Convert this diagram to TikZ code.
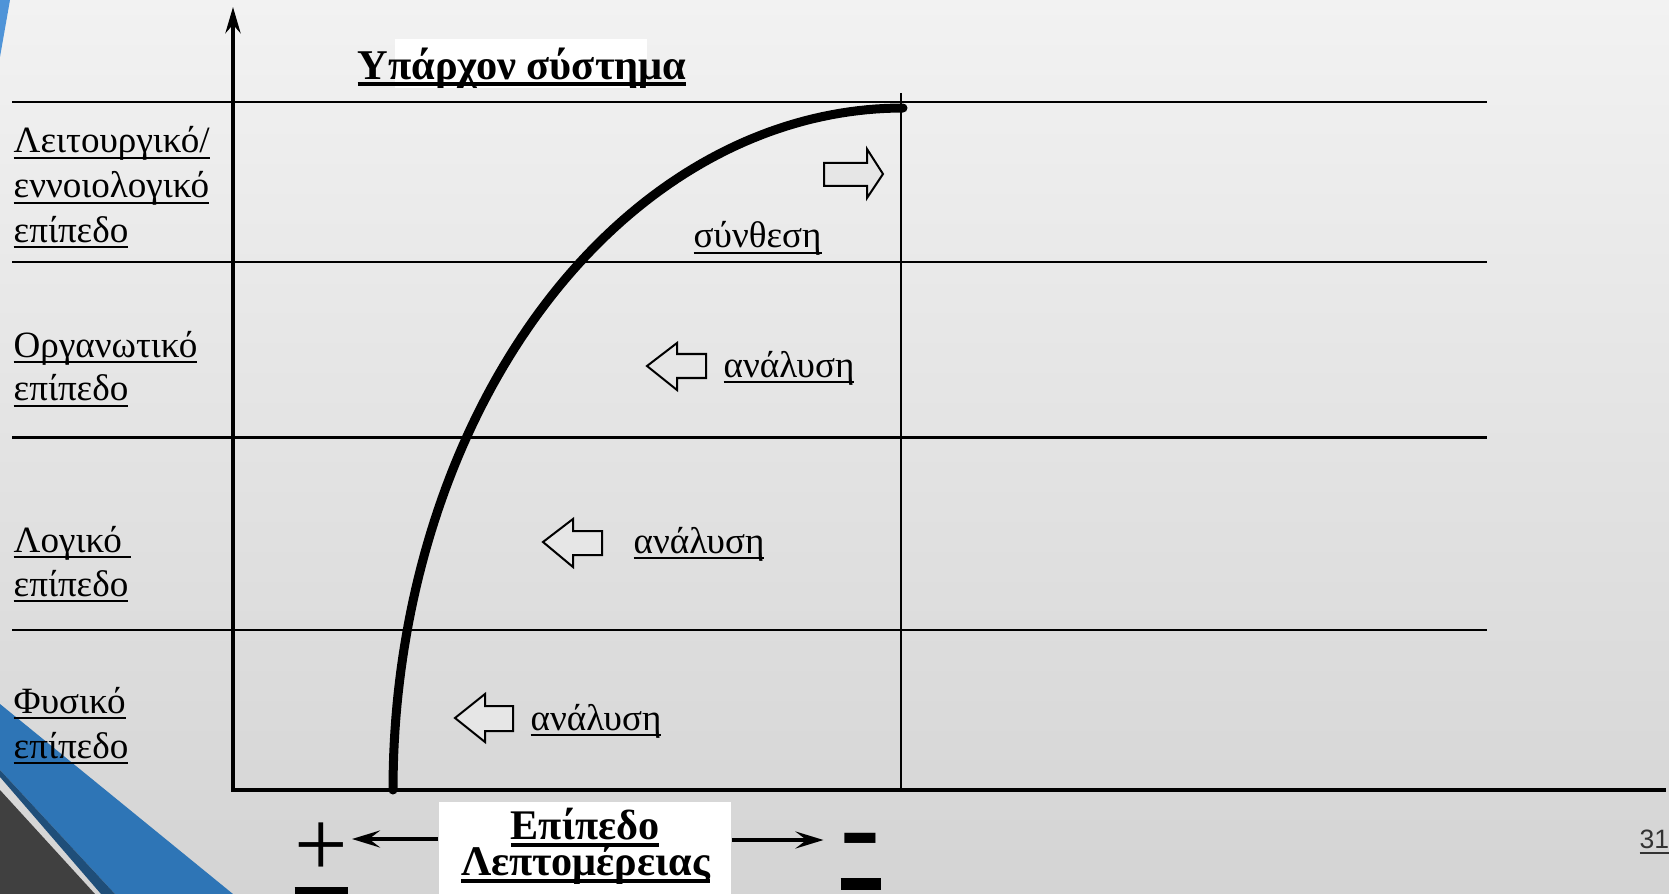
\documentclass[tikz,border=0pt]{standalone}
\usepackage{fontspec}
\setmainfont{Liberation Serif}
\newfontfamily\numfont{Liberation Sans}
\usetikzlibrary{arrows.meta}
\definecolor{bgtop}{HTML}{F2F2F2}
\definecolor{bgbot}{HTML}{D4D4D4}
\definecolor{blueA}{HTML}{2E75B6}
\definecolor{blueB}{HTML}{1F4E79}
\definecolor{blueC}{HTML}{4F94D8}
\definecolor{darkA}{HTML}{404040}
\definecolor{arrowfill}{HTML}{E6E6E6}
\definecolor{pgcol}{HTML}{333333}
\newcommand{\myul}[3]{\setbox0=\hbox{#3}\rlap{\rule[\dimexpr-#1-#2\relax]{\wd0}{#2}}\box0}
\begin{document}
\begin{tikzpicture}[x=0.01cm,y=-0.01cm,
  grid/.style={line width=0.022cm,black},
  axis/.style={line width=0.048cm,black},
  curve/.style={line width=0.09cm,black,line cap=round},
  blockarrow/.style={draw=black,line width=0.02cm,fill=arrowfill,line join=miter},
  lbl/.style={anchor=base west,inner sep=0,font=\fontsize{10.55}{12.66}\selectfont},
  ttl/.style={anchor=base west,inner sep=0,font=\bfseries\fontsize{12.05}{15}\selectfont},
  det/.style={anchor=base,inner sep=0,font=\bfseries\fontsize{12}{13}\selectfont},
  detarrow/.style={line width=0.04cm,-{Stealth[length=0.28cm,width=0.17cm,inset=0.11cm]}}]
\useasboundingbox (0,0) rectangle (1669,894);
\clip (0,0) rectangle (1669,894);
% background
\shade[top color=bgtop,bottom color=bgbot] (0,0) rectangle (1669,894);
% corner decorations
\fill[blueC] (0,0) -- (10,0) -- (0,57) -- cycle;
\fill[blueA] (0,704) -- (233,894) -- (115,894) -- (0,770) -- cycle;
\fill[blueB] (0,770) -- (115,894) -- (101,894) -- (0,777) -- cycle;
\fill[darkA] (0,790) -- (95,894) -- (0,894) -- cycle;
% white boxes
\fill[white] (395,39) rectangle (647,88);
\node (detail) [fill=white,inner sep=0,minimum width=2.92cm,minimum height=1.0cm] at (585,851.7) {};
% grid lines
\foreach \yy in {102,262,437.5,630} \draw[grid] (12,\yy) -- (1487,\yy);
\draw[grid] (901,93) -- (901,790);
% axes
\draw[axis,{Stealth[length=0.26cm,width=0.15cm]}-] (233,7) -- (233,790) -- (1666,790);
% curve
\draw[curve] plot[domain=180:270,samples=90] ({903+510*cos(\x)},{790+682*sin(\x)});
% block arrows
\draw[blockarrow] (883,174) -- (867,149) -- (867,163) -- (824,163) -- (824,186) -- (867,186) -- (867,198) -- cycle;
\draw[blockarrow] (647,366) -- (677,343) -- (677,354) -- (706,354) -- (706,378) -- (677,378) -- (677,390) -- cycle;
\draw[blockarrow] (543,542) -- (573,519) -- (573,531) -- (602,531) -- (602,555) -- (573,555) -- (573,567) -- cycle;
\draw[blockarrow] (455,718) -- (485,694) -- (485,706) -- (513,706) -- (513,731) -- (485,731) -- (485,742) -- cycle;
% left labels
\node[lbl] (l1a) at (13,153) {\myul{0.04cm}{0.02cm}{Λειτουργικό/}};
\node[lbl] (l1b) at (13,198) {\myul{0.04cm}{0.02cm}{εννοιολογικό}};
\node[lbl] (l1c) at (13,242) {\myul{0.04cm}{0.02cm}{επίπεδο}};
\node[lbl] (l2a) at (13,357) {\myul{0.04cm}{0.02cm}{Οργανωτικό}};
\node[lbl] (l2b) at (13,400.5) {\myul{0.04cm}{0.02cm}{επίπεδο}};
\node[lbl] (l3a) at (13,552) {\myul{0.04cm}{0.02cm}{Λογικό\ }};
\node[lbl] (l3b) at (13,596) {\myul{0.04cm}{0.02cm}{επίπεδο}};
\node[lbl] (l4a) at (13,713) {\myul{0.04cm}{0.02cm}{Φυσικό}};
\node[lbl] (l4b) at (13,758) {\myul{0.04cm}{0.02cm}{επίπεδο}};
% inner labels
\node[lbl] (syn) at (693,248) {\myul{0.04cm}{0.02cm}{σύνθεση}};
\node[lbl] (an2) at (723,377) {\myul{0.04cm}{0.02cm}{ανάλυση}};
\node[lbl] (an3) at (633,553) {\myul{0.04cm}{0.02cm}{ανάλυση}};
\node[lbl] (an4) at (530,730) {\myul{0.04cm}{0.02cm}{ανάλυση}};
% title
\node[ttl] (title) at (357,80) {\myul{0.017cm}{0.043cm}{Υπάρχον σύστημα}};
% bottom label
\node[det] (det1) at (585,839) {\myul{0.04cm}{0.035cm}{Επίπεδο}};
\node[det] (det2) at (585.5,875) {\myul{0.04cm}{0.035cm}{Λεπτομέρειας}};
% plus / minus
\node[anchor=base west,inner sep=0,font=\fontsize{27}{30}\selectfont] (plus) at (294,876) {\myul{0.11cm}{0.12cm}{+}};
\node[anchor=base west,inner sep=0,font=\bfseries\fontsize{34}{38}\selectfont] (minus) at (840,866) {\myul{0.123cm}{0.117cm}{-}};
\coordinate (la) at (352,839);
\coordinate (ra) at (823.5,840);
\draw[detarrow] (detail.west |- la) -- (la);
\draw[detarrow] (detail.east |- ra) -- (ra);
% page number
\node[anchor=base west,inner sep=0,text=pgcol,font=\numfont\fontsize{7.55}{9}\selectfont] (page) at (1639,848) {\myul{0.04cm}{0.015cm}{31}};
\end{tikzpicture}
\end{document}
